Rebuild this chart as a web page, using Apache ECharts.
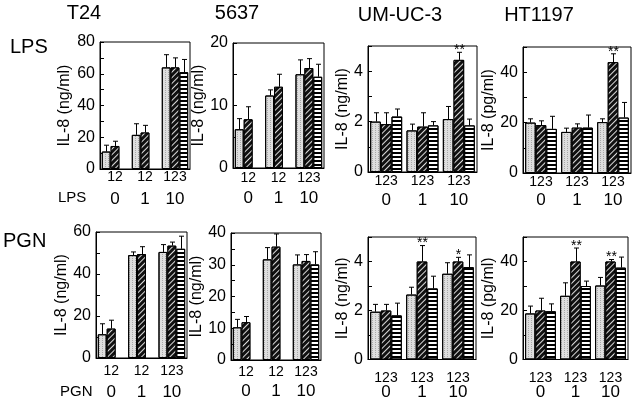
<!DOCTYPE html>
<html><head><meta charset="utf-8">
<script src="https://cdn.jsdelivr.net/npm/echarts@6/dist/echarts.min.js"></script>
<style>html,body{margin:0;padding:0;background:#fff}#c{width:634px;height:401px}</style>
</head><body><div id="c"></div>
<script>
// ---------------- data ----------------
const doseLabels = ['0', '1', '10'];
const cellLines = ['T24', '5637', 'UM-UC-3', 'HT1197'];
const stimuli = ['LPS', 'PGN'];
const yTitles = ['IL-8 (ng/ml)', 'IL-8 (ng/ml)', 'IL-8 (ng/ml)', 'IL-8 (pg/ml)'];
const twoBarTicks = ['12', '12', '123'];
const threeBarTicks = ['123', '123', '123'];

// means / errors: one row per bar type (1, 2, 3), one column per dose (0, 1, 10)
const t24LpsMean = [[11, 21.5, 64], [14.5, 23, 64], [null, null, 61]];
const t24LpsErr = [[4, 7, 8], [3, 4.5, 6], [null, null, 8]];
const c5637LpsMean = [[6.2, 11.6, 15], [7.8, 13, 16], [null, null, 14.6]];
const c5637LpsErr = [[1.7, 0.9, 2.3], [2, 2, 1.5], [null, null, 2]];
const umucLpsMean = [[2.0, 1.65, 2.1], [1.9, 1.8, 4.45], [2.2, 1.85, 1.85]];
const umucLpsErr = [[0.35, 0.25, 0.5], [0.45, 0.55, 0.3], [0.3, 0.15, 0.25]];
const umucLpsSig = [['', '', ''], ['', '', '**'], ['', '', '']];
const ht1197LpsMean = [[20, 16.3, 20.2], [19, 18, 44], [17.5, 18, 22]];
const ht1197LpsErr = [[1.5, 1.5, 1.3], [1.7, 1.5, 3.3], [5, 5, 6]];
const ht1197LpsSig = [['', '', ''], ['', '', '**'], ['', '', '']];

const t24PgnMean = [[11.3, 49, 50.5], [14, 49.5, 53.5], [null, null, 52]];
const t24PgnErr = [[5, 1.5, 3.5], [4, 3.5, 1.7], [null, null, 6]];
const c5637PgnMean = [[10.3, 31.7, 30.1], [11.9, 35.7, 31.2], [null, null, 30.1]];
const c5637PgnErr = [[2.5, 3.7, 3], [1.8, 4, 2], [null, null, 4]];
const umucPgnMean = [[1.95, 2.65, 3.5], [2.0, 4.0, 4.0], [1.8, 2.9, 3.77]];
const umucPgnErr = [[0.3, 0.3, 0.45], [0.25, 0.65, 0.17], [0.5, 0.5, 0.5]];
const umucPgnSig = [['', '', ''], ['', '**', '*'], ['', '', '']];
const ht1197PgnMean = [[18.8, 26, 30.2], [20, 40, 40], [19.7, 30, 37.5]];
const ht1197PgnErr = [[3, 5.3, 3.3], [5, 5.5, 0.8], [3, 2, 4.3]];
const ht1197PgnSig = [['', '', ''], ['', '**', '**'], ['', '', '']];

const yMaxLps = [80, 20, 5, 50];
const yMaxPgn = [60, 40, 5, 50];
const yTickStep = [10, 5, 1, 10, 10, 5, 1, 10];
const yLabelStep = [20, 10, 2, 20, 20, 10, 2, 20];

// ---------------- layout / style ----------------
const FONT = 'Liberation Sans, Arial, Helvetica, sans-serif';
const CAT_GAP = 0.12;
const panels = [
  {mean: t24LpsMean, err: t24LpsErr, sig: null, ticks: twoBarTicks, max: yMaxLps[0], grid: [100, 42, 90, 127], nameGap: 27, m1: 1, m2: 21.5},
  {mean: c5637LpsMean, err: c5637LpsErr, sig: null, ticks: twoBarTicks, max: yMaxLps[1], grid: [233, 43, 91, 125], nameGap: 17, m1: 3, m2: 21.5},
  {mean: umucLpsMean, err: umucLpsErr, sig: umucLpsSig, ticks: threeBarTicks, max: yMaxLps[2], grid: [368, 46, 109, 126], nameGap: 12, m1: 2, m2: 19.5},
  {mean: ht1197LpsMean, err: ht1197LpsErr, sig: ht1197LpsSig, ticks: threeBarTicks, max: yMaxLps[3], grid: [523, 47, 108, 126], nameGap: 15, m1: 2, m2: 18.5},
  {mean: t24PgnMean, err: t24PgnErr, sig: null, ticks: twoBarTicks, max: yMaxPgn[0], grid: [96, 232, 91, 126], nameGap: 24, m1: 6, m2: 25.5},
  {mean: c5637PgnMean, err: c5637PgnErr, sig: null, ticks: twoBarTicks, max: yMaxPgn[1], grid: [231, 233, 90, 127], nameGap: 19, m1: 5, m2: 22.5},
  {mean: umucPgnMean, err: umucPgnErr, sig: umucPgnSig, ticks: threeBarTicks, max: yMaxPgn[2], grid: [368, 237, 108, 125], nameGap: 12, m1: 12, m2: 24.5},
  {mean: ht1197PgnMean, err: ht1197PgnErr, sig: ht1197PgnSig, ticks: threeBarTicks, max: yMaxPgn[3], grid: [523, 237, 105, 126], nameGap: 14, m1: 12, m2: 24.5}
];

const barStyles = [
  {color: '#dedede', decal: {symbol: 'rect', symbolSize: 1, color: 'rgba(90,90,90,0.4)', dashArrayX: [1, 2], dashArrayY: [1, 1], rotation: 0}},
  {color: '#111', decal: {symbol: 'rect', symbolSize: 1, color: 'rgba(255,255,255,0.85)', dashArrayX: [1, 0], dashArrayY: [1, 3], rotation: -Math.PI / 4}},
  {color: '#fff', decal: {symbol: 'rect', symbolSize: 1, color: '#000', dashArrayX: [1, 0], dashArrayY: [2, 2], rotation: 0}}
];

const grid = [], xAxis = [], yAxis = [], series = [];
panels.forEach((p, i) => {
  grid.push({left: p.grid[0], top: p.grid[1], width: p.grid[2], height: p.grid[3], show: true, borderColor: '#000', borderWidth: 1, backgroundColor: 'transparent', containLabel: false});
  xAxis.push({
    gridIndex: i, type: 'category', data: doseLabels, position: 'bottom',
    axisLine: {show: true, lineStyle: {color: '#000', width: 1}}, axisTick: {show: false},
    axisLabel: {fontSize: 14, color: '#000', fontFamily: FONT, margin: p.m1, interval: 0, formatter: (v, idx) => p.ticks[idx]}
  });
  xAxis.push({
    gridIndex: i, type: 'category', data: doseLabels, position: 'bottom', offset: 0,
    axisLine: {show: false}, axisTick: {show: false},
    axisLabel: {fontSize: 17, color: '#000', fontFamily: FONT, margin: p.m2, interval: 0}
  });
  yAxis.push({
    gridIndex: i, type: 'value', min: 0, max: p.max, interval: yTickStep[i],
    axisLine: {show: true, lineStyle: {color: '#000', width: 1}},
    axisTick: {show: true, inside: true, length: 4, lineStyle: {color: '#000'}},
    splitLine: {show: false},
    axisLabel: {fontSize: 16, color: '#000', fontFamily: FONT, margin: 5, formatter: v => (v % yLabelStep[i] === 0 ? String(v) : '')},
    name: yTitles[i % 4], nameLocation: 'middle', nameGap: p.nameGap,
    nameTextStyle: {fontSize: 16, color: '#000', fontFamily: FONT}
  });
  for (let s = 0; s < 3; s++) {
    series.push({
      type: 'bar', xAxisIndex: 2 * i, yAxisIndex: i, data: p.mean[s],
      barGap: '0%', barCategoryGap: (CAT_GAP * 100) + '%',
      itemStyle: {color: barStyles[s].color, decal: barStyles[s].decal, borderColor: '#000', borderWidth: 1},
      silent: true, animation: false
    });
  }
  const items = [], sigs = [];
  for (let s = 0; s < 3; s++) {
    for (let g = 0; g < 3; g++) {
      if (p.mean[s][g] == null) continue;
      items.push([g, s, p.mean[s][g], p.err[s][g]]);
      sigs.push(p.sig ? p.sig[s][g] : '');
    }
  }
  series.push({
    type: 'custom', xAxisIndex: 2 * i, yAxisIndex: i, data: items, z: 5, animation: false, silent: true,
    encode: {x: 0, y: 2},
    renderItem: (params, api) => {
      const g = api.value(0), s = api.value(1), m = api.value(2), e = api.value(3);
      const base = api.coord([g, m]);
      const top = api.coord([g, m + e]);
      const band = api.size([1, 0])[0];
      const bw = band * (1 - CAT_GAP) / 3;
      const x = Math.round(base[0] + (s - 1) * bw) + 0.5;
      const children = [
        {type: 'line', shape: {x1: x, y1: base[1], x2: x, y2: top[1]}, style: {stroke: '#000', lineWidth: 1}},
        {type: 'line', shape: {x1: x - 2.5, y1: top[1], x2: x + 2.5, y2: top[1]}, style: {stroke: '#000', lineWidth: 1}}
      ];
      const mark = sigs[params.dataIndex];
      if (mark) {
        children.push({type: 'text', style: {text: mark, x: x, y: top[1] - 2, align: 'center', verticalAlign: 'middle', fontSize: 14, fontFamily: FONT, fill: '#000'}});
      }
      return {type: 'group', children};
    }
  });
});

const titleCenters = [[84, 13], [237, 13], [400, 15], [539, 15]];
const graphic = [];
cellLines.forEach((t, k) => graphic.push({type: 'text', x: titleCenters[k][0], y: titleCenters[k][1], style: {text: t, align: 'center', verticalAlign: 'middle', fontSize: 20, fontFamily: FONT, fill: '#000'}}));
graphic.push({type: 'text', x: 10, y: 47, style: {text: stimuli[0], align: 'left', verticalAlign: 'middle', fontSize: 20, fontFamily: FONT, fill: '#000'}});
graphic.push({type: 'text', x: 3, y: 241, style: {text: stimuli[1], align: 'left', verticalAlign: 'middle', fontSize: 20, fontFamily: FONT, fill: '#000'}});
graphic.push({type: 'text', x: 58, y: 198, style: {text: stimuli[0], align: 'left', verticalAlign: 'middle', fontSize: 15, fontFamily: FONT, fill: '#000'}});
graphic.push({type: 'text', x: 60, y: 392, style: {text: stimuli[1], align: 'left', verticalAlign: 'middle', fontSize: 15, fontFamily: FONT, fill: '#000'}});

const chart = echarts.init(document.getElementById('c'), null, {renderer: 'canvas'});
chart.setOption({
  backgroundColor: '#fff', animation: false,
  textStyle: {fontFamily: FONT},
  grid, xAxis, yAxis, series, graphic
});
</script></body></html>
